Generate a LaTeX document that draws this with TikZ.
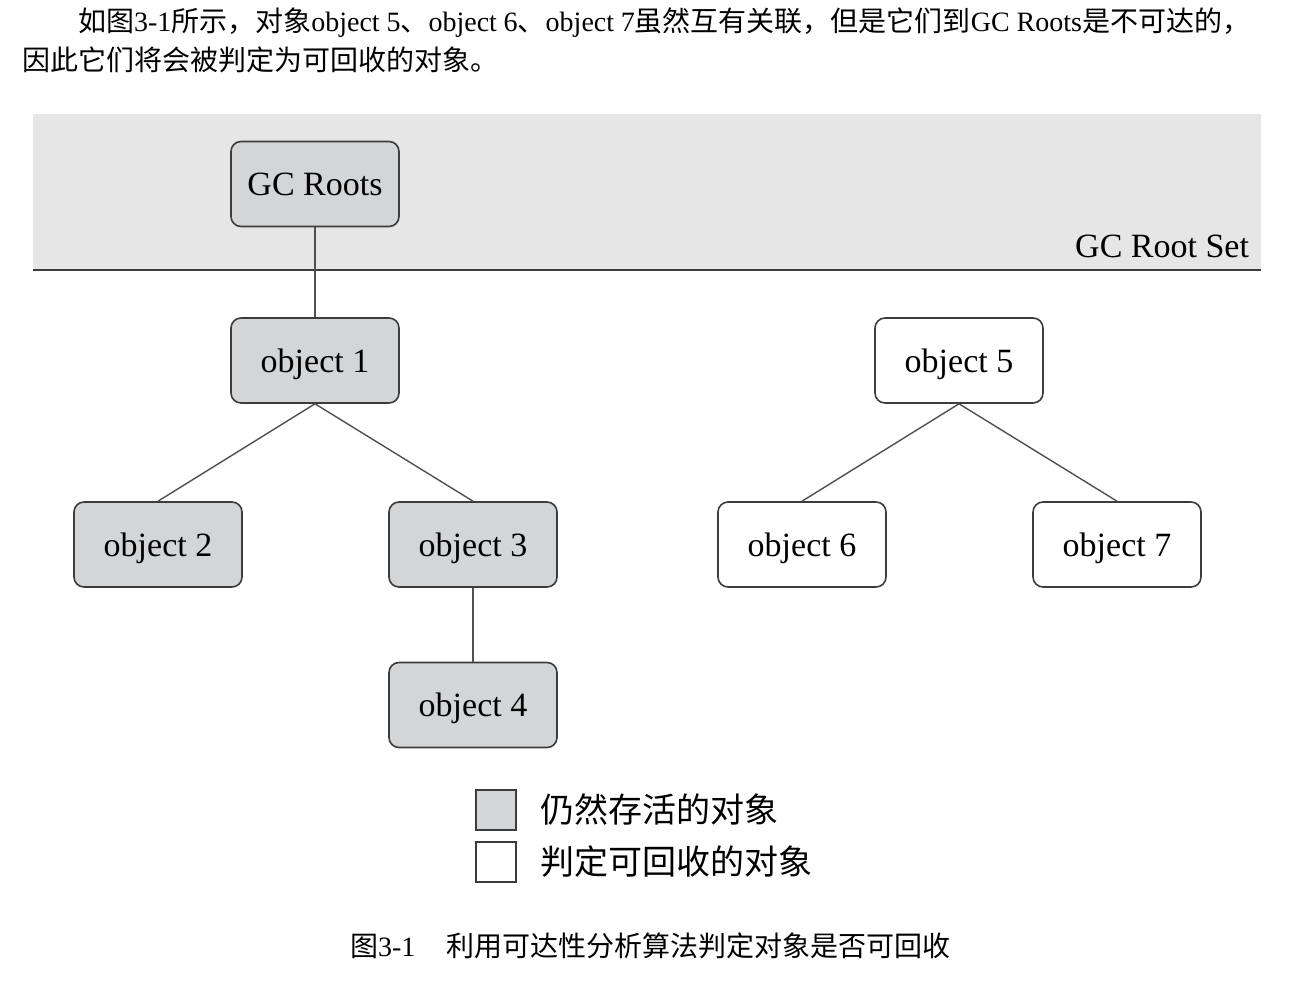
\documentclass[tikz,border=0pt]{standalone}
\usepackage{fontspec}
\setmainfont{Liberation Serif}
\newfontfamily\cjk{Noto Sans CJK SC}
\definecolor{bandgray}{HTML}{E6E6E6}
\definecolor{boxgray}{HTML}{D3D5D6}
\definecolor{edgegray}{HTML}{3C3C3C}
\definecolor{linkgray}{HTML}{505050}
\begin{document}
\begin{tikzpicture}[x=1pt,y=-1pt,
  objbox/.style={draw=edgegray, line width=1.6pt, rounded corners=10pt,
    minimum width=168pt, minimum height=85pt, inner sep=0pt,
    text height=23pt, text depth=0pt,
    font=\fontsize{34}{40}\selectfont},
  alive/.style={objbox, fill=boxgray},
  dead/.style={objbox, fill=white},
  link/.style={draw=linkgray, line width=1.4pt},
  legbox/.style={draw=edgegray, line width=1.6pt, minimum width=40pt, minimum height=40pt, inner sep=0pt},
  txt/.style={inner sep=0pt, outer sep=0pt}
]
\useasboundingbox (0,0) rectangle (1308,984);
\fill[white] (0,0) rectangle (1308,984);

% paragraph
\node[txt, anchor=base west, font=\fontsize{28}{34}\selectfont] (p1) at (78,32)
  {\makebox[1172pt][s]{{\cjk 如图}3-1{\cjk 所示，对象}object 5{\cjk 、}object 6{\cjk 、}object 7{\cjk 虽然互有关联，但是它们到}GC Roots{\cjk 是不可达的，}}};
\node[txt, anchor=base west, font=\fontsize{28}{34}\selectfont] (p2) at (22,71)
  {\cjk 因此它们将会被判定为可回收的对象。};

% root set band
\fill[bandgray] (33,114) rectangle (1261,270);
\coordinate (bandL) at (33,270);
\coordinate (bandR) at (1261,270);
\draw[edgegray, line width=1.6pt] (bandL) -- (bandR);
\node[txt, anchor=base east, font=\fontsize{34}{40}\selectfont] (rootset) at (1249,258) {GC Root Set};

% nodes
\node[alive] (roots) at (315,184) {GC Roots};
\node[alive] (o1) at (315,360.5) {object 1};
\node[alive] (o2) at (158,544.5) {object 2};
\node[alive] (o3) at (473,544.5) {object 3};
\node[alive] (o4) at (473,705) {object 4};
\node[dead]  (o5) at (959,360.5) {object 5};
\node[dead]  (o6) at (802,544.5) {object 6};
\node[dead]  (o7) at (1117,544.5) {object 7};

% links
\draw[link] (roots.south) -- (o1.north);
\draw[link] (o1.south) -- (o2.north);
\draw[link] (o1.south) -- (o3.north);
\draw[link] (o3.south) -- (o4.north);
\draw[link] (o5.south) -- (o6.north);
\draw[link] (o5.south) -- (o7.north);

% legend
\node[legbox, fill=boxgray] (lg1) at (496,810) {};
\node[legbox, fill=white] (lg2) at (496,862) {};
\node[txt, anchor=base west, font=\fontsize{34}{40}\selectfont\cjk] (lt1) at (540,822) {仍然存活的对象};
\node[txt, anchor=base west, font=\fontsize{34}{40}\selectfont\cjk] (lt2) at (540,874) {判定可回收的对象};

% caption
\node[txt, anchor=base west, font=\fontsize{28}{34}\selectfont] (cap) at (350,956)
  {{\cjk 图}3-1\hspace{31pt}{\cjk 利用可达性分析算法判定对象是否可回收}};
\end{tikzpicture}
\end{document}
